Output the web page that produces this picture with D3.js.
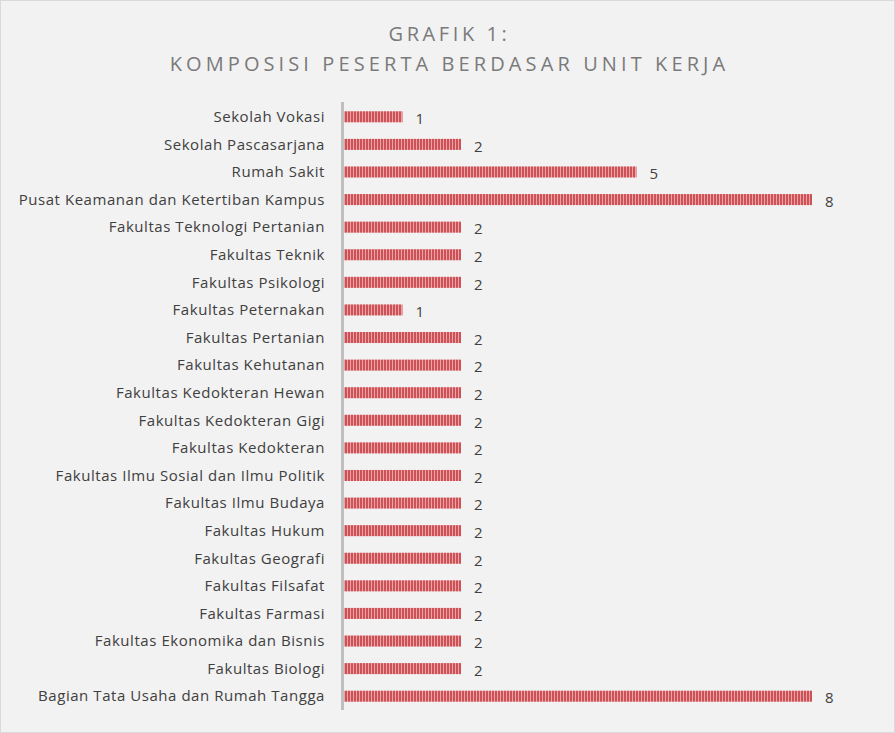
<!DOCTYPE html>
<html><head><meta charset="utf-8">
<script src="https://cdn.jsdelivr.net/npm/d3@7"></script>
<style>
html,body{margin:0;padding:0;background:#fff;}
svg{display:block;}
</style></head>
<body>
<svg id="chart" width="895" height="733"></svg>
<script>
const categories = [
 "Sekolah Vokasi","Sekolah Pascasarjana","Rumah Sakit","Pusat Keamanan dan Ketertiban Kampus",
 "Fakultas Teknologi Pertanian","Fakultas Teknik","Fakultas Psikologi","Fakultas Peternakan",
 "Fakultas Pertanian","Fakultas Kehutanan","Fakultas Kedokteran Hewan","Fakultas Kedokteran Gigi",
 "Fakultas Kedokteran","Fakultas Ilmu Sosial dan Ilmu Politik","Fakultas Ilmu Budaya","Fakultas Hukum",
 "Fakultas Geografi","Fakultas Filsafat","Fakultas Farmasi","Fakultas Ekonomika dan Bisnis",
 "Fakultas Biologi","Bagian Tata Usaha dan Rumah Tangga"
];
const values = [1,2,5,8,2,2,2,1,2,2,2,2,2,2,2,2,2,2,2,2,2,8];
const titleLines = ["GRAFIK 1:","KOMPOSISI PESERTA BERDASAR UNIT KERJA"];

const W = 895, H = 733;
const svg = d3.select("#chart");
const defs = svg.append("defs");
const pat = defs.append("pattern").attr("id","stripes").attr("patternUnits","userSpaceOnUse")
  .attr("width",3).attr("height",10);
pat.append("rect").attr("width",3).attr("height",10).attr("fill","#eba3a5");
pat.append("rect").attr("width",2).attr("height",10).attr("fill","#cc5257");

svg.append("rect").attr("x",0.5).attr("y",0.5).attr("width",W-1).attr("height",H-1)
  .attr("fill","#f2f2f2").attr("stroke","#d9d9d9");

const x = d3.scaleLinear().domain([0,8]).range([344,812]);
const y = d3.scaleBand().domain(categories).range([103,710]).paddingInner(0.6).paddingOuter(0.3);

svg.selectAll("text.title").data(titleLines).join("text")
  .attr("x",W/2+2).attr("y",(d,i)=>41+i*30)
  .attr("text-anchor","middle")
  .attr("font-family","'Open Sans', sans-serif").attr("font-size",20)
  .attr("letter-spacing",(d,i)=>i===0?3.6:4.1).attr("fill","#7a7a7a").text(d=>d);

svg.selectAll("rect.bar").data(values).join("rect")
  .attr("x",x(0)).attr("y",(d,i)=>y(categories[i]))
  .attr("width",d=>x(d)-x(0)).attr("height",y.bandwidth())
  .attr("fill","url(#stripes)");

svg.append("line").attr("x1",342.5).attr("x2",342.5).attr("y1",102).attr("y2",710)
  .attr("stroke","#bfbfbf").attr("stroke-width",3);

svg.selectAll("text.cat").data(categories).join("text")
  .attr("x",325).attr("y",d=>y(d)+y.bandwidth()/2).attr("dy","0.35em")
  .attr("text-anchor","end").attr("font-family","'Open Sans', sans-serif").attr("font-size",15)
  .attr("letter-spacing",0.55)
  .attr("fill","#404040").text(d=>d);

svg.selectAll("text.val").data(values).join("text")
  .attr("x",d=>x(d)+13).attr("y",(d,i)=>y(categories[i])+y.bandwidth()/2+2).attr("dy","0.35em")
  .attr("font-family","'Open Sans', sans-serif").attr("font-size",15)
  .attr("fill","#404040").text(d=>d);
</script>
</body></html>
